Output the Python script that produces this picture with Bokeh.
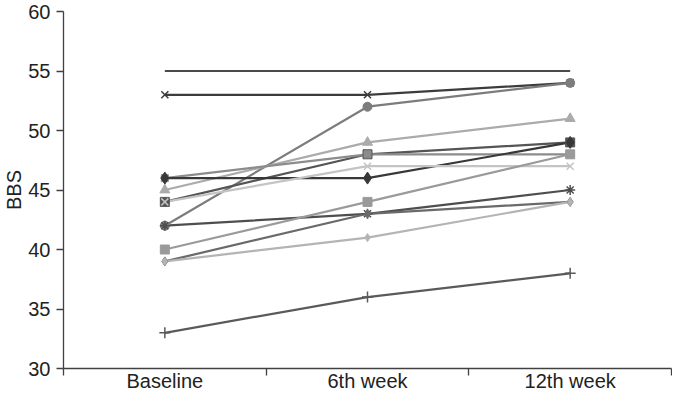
from bokeh.plotting import figure
from bokeh.models import LinearAxis, FixedTicker, Range1d, FactorRange
from bokeh.embed import file_html
from bokeh.resources import INLINE

periods = ["Baseline", "6th week", "12th week"]

# BBS values per subject (Baseline, 6th week, 12th week)
s01 = [55, 55, 55]
s02 = [53, 53, 54]
s03 = [42, 52, 54]
s04 = [45, 49, 51]
s05 = [44, 48, 49]
s06 = [46, 48, 48]
s07 = [46, 46, 49]
s08 = [44, 47, 47]
s09 = [42, 43, 45]
s10 = [40, 44, 48]
s11 = [39, 43, 44]
s12 = [39, 41, 44]
s13 = [33, 36, 38]

series = [s01, s02, s03, s04, s05, s06, s07, s08, s09, s10, s11, s12, s13]
colors = ["#4a4a4a", "#3c3c3c", "#7c7c7c", "#ababab", "#555555", "#8c8c8c",
          "#383838", "#c4c4c4", "#4e4e4e", "#9a9a9a", "#6a6a6a", "#b4b4b4", "#5a5a5a"]
markers = [None, "x", "circle", "triangle", "square", "square",
           "diamond", "x", "asterisk", "square", "diamond", "diamond", "cross"]
msizes = [0, 10, 9, 10, 9, 7, 12, 10, 10, 9, 9, 8, 11]

FONT = "Liberation Sans"
FS = "20px"

p = figure(width=672, height=395, output_backend="svg", toolbar_location=None,
           x_range=FactorRange(factors=periods, range_padding=0),
           y_range=Range1d(30, 60), x_axis_type=None,
           min_border_left=63, min_border_right=1, min_border_top=11, min_border_bottom=27)
p.outline_line_color = None
p.xgrid.visible = False
p.ygrid.visible = False
p.background_fill_color = "white"
p.border_fill_color = "white"

for vals, c in zip(series, colors):
    p.line(periods, vals, line_color=c, line_width=2.2)
for vals, c, m, ms in zip(series, colors, markers, msizes):
    if m is not None:
        if m in ("x", "asterisk", "cross"):
            p.scatter(periods, vals, marker=m, size=ms, line_color=c, line_width=1.5)
        else:
            p.scatter(periods, vals, marker=m, size=ms, fill_color=c, line_color=c)

centers = [i + 0.5 for i in range(len(periods))]
bounds = [float(i) for i in range(len(periods) + 1)]
xaxis = LinearAxis(ticker=FixedTicker(ticks=centers, minor_ticks=bounds),
                   major_label_overrides={c: lab for c, lab in zip(centers, periods)})
xaxis.major_tick_out = 0
xaxis.major_tick_in = 0
xaxis.minor_tick_out = 7
xaxis.minor_tick_in = 0
xaxis.minor_tick_line_color = "#404040"
xaxis.axis_line_color = "#404040"
xaxis.axis_line_width = 1.3
xaxis.minor_tick_line_width = 1.3
xaxis.major_label_standoff = -6
xaxis.major_label_text_font = FONT
xaxis.major_label_text_font_size = FS
xaxis.major_label_text_color = "#222222"
p.add_layout(xaxis, "below")

yaxis = p.yaxis[0]
yaxis.ticker = FixedTicker(ticks=[30, 35, 40, 45, 50, 55, 60])
yaxis.major_tick_out = 7
yaxis.major_tick_in = 0
yaxis.minor_tick_line_color = None
yaxis.axis_line_color = "#404040"
yaxis.major_tick_line_color = "#404040"
yaxis.axis_line_width = 1.3
yaxis.major_tick_line_width = 1.3
yaxis.major_label_standoff = 6
yaxis.major_label_text_font = FONT
yaxis.major_label_text_font_size = FS
yaxis.major_label_text_color = "#222222"
yaxis.axis_label = "BBS"
yaxis.axis_label_text_font = FONT
yaxis.axis_label_text_font_size = FS
yaxis.axis_label_text_font_style = "normal"
yaxis.axis_label_text_color = "#222222"
yaxis.axis_label_standoff = 0

open("out.html", "w").write(file_html(p, INLINE))
